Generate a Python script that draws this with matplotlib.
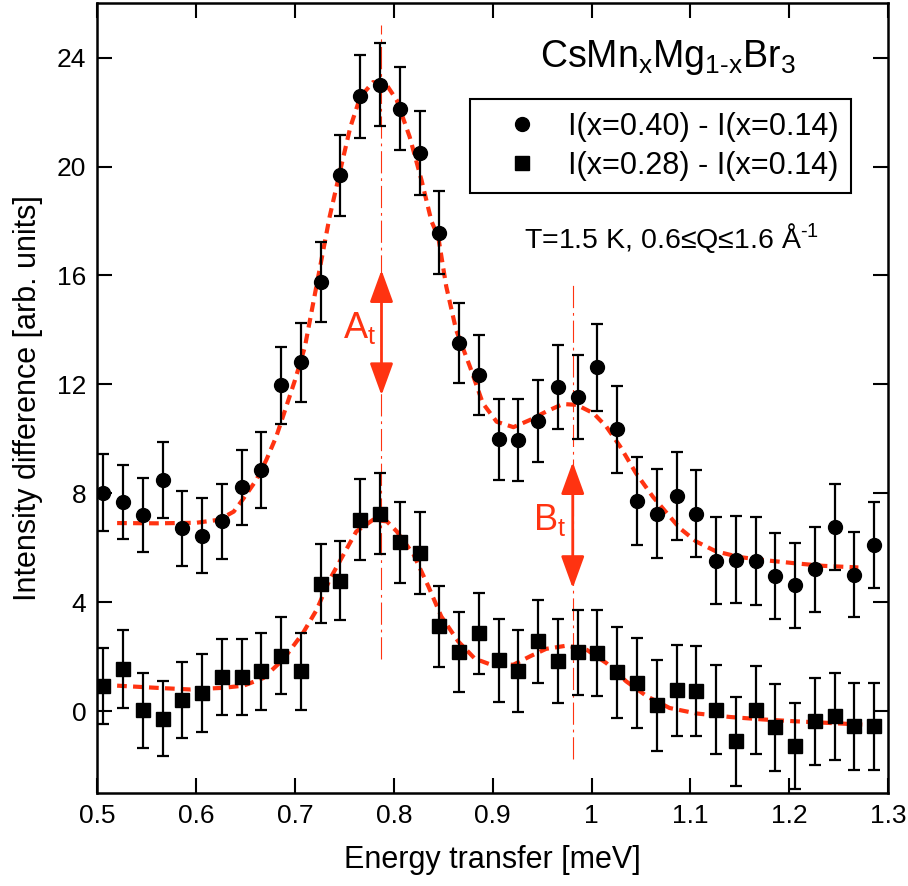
import matplotlib
matplotlib.use('Agg')
import matplotlib.pyplot as plt
from matplotlib.lines import Line2D

plt.rcParams['font.family'] = ['Liberation Sans', 'DejaVu Sans']
plt.rcParams['mathtext.fontset'] = 'custom'
plt.rcParams['mathtext.rm'] = 'Liberation Sans'
plt.rcParams['mathtext.it'] = 'Liberation Sans'
plt.rcParams['lines.scale_dashes'] = False

# energy transfer of every data point [meV]
energy = [0.506, 0.526, 0.546, 0.566, 0.586, 0.606, 0.626, 0.646, 0.666, 0.686,
          0.706, 0.726, 0.746, 0.766, 0.786, 0.806, 0.826, 0.846, 0.866, 0.886,
          0.906, 0.926, 0.946, 0.966, 0.986, 1.006, 1.026, 1.046, 1.066, 1.086,
          1.106, 1.126, 1.146, 1.166, 1.186, 1.206, 1.226, 1.246, 1.266, 1.286]

# I(x=0.40) - I(x=0.14)
diff40 = [8.03, 7.68, 7.21, 8.50, 6.72, 6.44, 6.98, 8.23, 8.87, 11.97,
          12.81, 15.77, 19.68, 22.58, 23.01, 22.13, 20.51, 17.57, 13.52, 12.35,
          9.99, 9.95, 10.66, 11.90, 11.55, 12.63, 10.36, 7.73, 7.25, 7.90,
          7.26, 5.53, 5.57, 5.51, 4.98, 4.62, 5.22, 6.76, 5.02, 6.09]
err40 = [1.40, 1.37, 1.37, 1.39, 1.38, 1.38, 1.38, 1.38, 1.39, 1.42,
         1.44, 1.47, 1.49, 1.52, 1.52, 1.52, 1.54, 1.52, 1.48, 1.48,
         1.49, 1.50, 1.51, 1.54, 1.54, 1.59, 1.60, 1.61, 1.63, 1.63,
         1.60, 1.61, 1.61, 1.61, 1.58, 1.56, 1.56, 1.58, 1.56, 1.58]

# I(x=0.28) - I(x=0.14)
diff28 = [0.92, 1.55, 0.04, -0.27, 0.40, 0.67, 1.25, 1.25, 1.47, 2.04,
          1.47, 4.69, 4.80, 7.04, 7.26, 6.21, 5.81, 3.12, 2.16, 2.86,
          1.87, 1.47, 2.57, 1.83, 2.16, 2.13, 1.43, 1.04, 0.22, 0.77,
          0.75, 0.06, -1.10, 0.04, -0.59, -1.28, -0.37, -0.18, -0.55, -0.55]
err28 = [1.39, 1.42, 1.38, 1.39, 1.40, 1.42, 1.39, 1.40, 1.42, 1.41,
         1.42, 1.46, 1.46, 1.47, 1.49, 1.49, 1.50, 1.49, 1.47, 1.48,
         1.52, 1.51, 1.52, 1.54, 1.57, 1.58, 1.66, 1.66, 1.67, 1.67,
         1.64, 1.64, 1.64, 1.62, 1.60, 1.59, 1.60, 1.60, 1.60, 1.59]

# fitted curves
fit40_x = [0.520, 0.560, 0.600, 0.623, 0.638, 0.648, 0.661, 0.671, 0.681, 0.690,
           0.700, 0.710, 0.719, 0.735, 0.745, 0.756, 0.766, 0.779, 0.793, 0.803,
           0.816, 0.828, 0.838, 0.845, 0.853, 0.863, 0.877, 0.890, 0.904, 0.921,
           0.938, 0.954, 0.971, 0.985, 1.002, 1.015, 1.029, 1.045, 1.062, 1.089,
           1.106, 1.126, 1.150, 1.177, 1.204, 1.234, 1.270]
fit40_y = [6.91, 6.90, 6.92, 7.03, 7.33, 7.82, 8.50, 9.23, 10.08, 11.06,
           12.16, 13.38, 15.10, 18.15, 19.74, 21.45, 22.55, 23.10, 22.98, 22.43,
           21.09, 19.50, 18.00, 17.40, 15.60, 14.00, 12.65, 11.31, 10.63, 10.43,
           10.70, 11.00, 11.28, 11.25, 10.94, 10.45, 9.72, 8.74, 7.88, 6.73,
           6.23, 5.87, 5.66, 5.54, 5.44, 5.34, 5.28]

fit28_x = [0.520, 0.560, 0.594, 0.627, 0.648, 0.668, 0.688, 0.708, 0.722, 0.735,
           0.749, 0.762, 0.779, 0.793, 0.803, 0.820, 0.835, 0.848, 0.865, 0.882,
           0.899, 0.921, 0.938, 0.954, 0.975, 0.995, 1.015, 1.035, 1.056, 1.079,
           1.106, 1.140, 1.173, 1.207, 1.241, 1.274]
fit28_y = [0.94, 0.86, 0.80, 0.86, 0.94, 1.22, 1.90, 2.87, 3.73, 4.83,
           5.75, 6.60, 7.03, 6.97, 6.60, 5.75, 4.58, 3.48, 2.57, 1.93,
           1.70, 1.71, 2.02, 2.29, 2.41, 2.26, 1.77, 1.10, 0.55, 0.12,
           -0.08, -0.21, -0.30, -0.37, -0.43, -0.49]

# peak markers: position, vertical line extent, arrow extent
peak_pos = [0.7875, 0.981]
vline_lo = [1.92, -1.77]
vline_hi = [25.2, 15.8]
arrow_lo = [11.6, 4.52]
arrow_hi = [16.2, 9.15]

xticks = [0.5, 0.6, 0.7, 0.8, 0.9, 1.0, 1.1, 1.2, 1.3]
xticklabels = ['0.5', '0.6', '0.7', '0.8', '0.9', '1', '1.1', '1.2', '1.3']
yticks = [0, 4, 8, 12, 16, 20, 24]

red = '#ff3311'

fig = plt.figure(figsize=(9.08, 8.86), dpi=100)
ax = fig.add_axes([0.1072, 0.105, 0.8708, 0.8915])

for x, lo, hi in zip(peak_pos, vline_lo, vline_hi):
    ax.plot([x, x], [lo, hi], color=red, lw=0.8, dashes=(16, 3.5, 2, 3.5))

ax.plot(fit40_x, fit40_y, color=red, lw=3, dashes=(7, 4.5))
ax.plot(fit28_x, fit28_y, color=red, lw=3, dashes=(7, 4.5))

ax.errorbar(energy, diff40, yerr=err40, fmt='none', ecolor='black',
            elinewidth=1.6, capsize=4, capthick=1.6)
ax.errorbar(energy, diff28, yerr=err28, fmt='none', ecolor='black',
            elinewidth=1.6, capsize=4, capthick=1.6)
ax.plot(energy, diff40, 'o', color='black', ms=10, ls='none')
ax.plot(energy, diff28, 's', color='black', ms=9.5, ls='none')

for x, lo, hi in zip(peak_pos, arrow_lo, arrow_hi):
    ax.annotate('', xy=(x, hi), xytext=(x, lo),
                arrowprops=dict(arrowstyle='<|-|>,head_length=1.1,head_width=0.4',
                                mutation_scale=18, lw=2, color=red,
                                shrinkA=0, shrinkB=0))

ax.text(0.749, 13.7, r'A$_\mathrm{t}$', color=red, fontsize=26, va='baseline')
ax.text(0.941, 6.66, r'B$_\mathrm{t}$', color=red, fontsize=26, va='baseline')

ax.text(1.077, 23.64, r'CsMn$_\mathrm{x}$Mg$_{\mathrm{1}\text{-}\mathrm{x}}$Br$_\mathrm{3}$',
        fontsize=27, ha='center', va='baseline')
ax.text(1.0806, 17.0, r'T=1.5 K, 0.6≤Q≤1.6 Å$^{\text{-}\mathrm{1}}$',
        fontsize=20.5, ha='center', va='baseline')

handles = [Line2D([], [], marker='o', color='black', ls='none', ms=10),
           Line2D([], [], marker='s', color='black', ls='none', ms=9.5)]
leg = ax.legend(handles, ['I(x=0.40) - I(x=0.14)', 'I(x=0.28) - I(x=0.14)'],
                loc='upper right', bbox_to_anchor=(0.953, 0.878), borderaxespad=0,
                fontsize=22, fancybox=False, framealpha=1, edgecolor='black',
                handlelength=2.6, handletextpad=0.2, labelspacing=0.3,
                borderpad=0.4)
leg.get_frame().set_linewidth(1.5)

ax.set_xlim(0.5, 1.3)
ax.set_ylim(-3, 26)
ax.set_xticks(xticks)
ax.set_xticklabels(xticklabels)
ax.set_yticks(yticks)
ax.tick_params(direction='in', length=11, width=1.5, labelsize=19,
               top=True, right=True, pad=8)
for s in ax.spines.values():
    s.set_linewidth(1.8)

ax.set_xlabel('Energy transfer [meV]', fontsize=22, labelpad=12)
ax.set_ylabel('Intensity difference [arb. units]', fontsize=22, labelpad=10)

fig.savefig('out.png', dpi=100)
